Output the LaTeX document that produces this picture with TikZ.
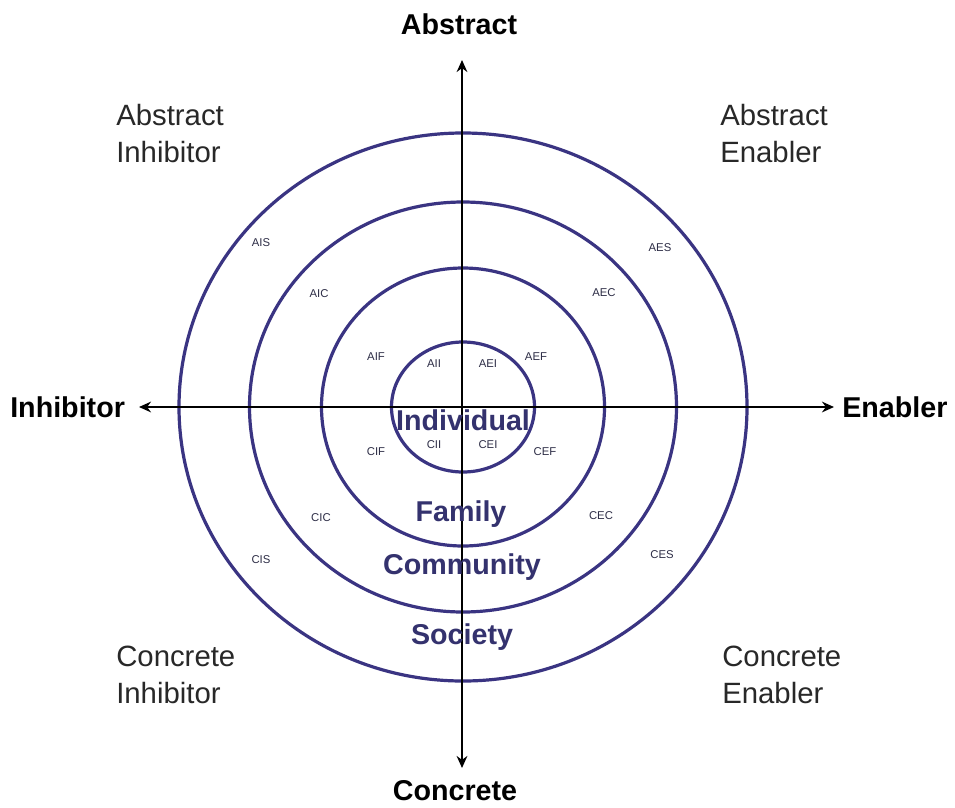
\documentclass[tikz,border=0pt]{standalone}
\usepackage{fontspec}
\setmainfont{Liberation Sans}
\usetikzlibrary{arrows.meta}
\definecolor{ring}{RGB}{58,52,130}
\definecolor{ringtext}{RGB}{52,50,110}
\definecolor{small}{RGB}{45,45,70}
\definecolor{quadtext}{RGB}{40,40,40}
\tikzset{
  ringline/.style={draw=ring, line width=2.4pt},
  axis/.style={draw=black, line width=2.2pt, -{Stealth[length=9pt,width=8pt]}},
  axislabel/.style={font=\fontsize{21.5}{24}\selectfont\bfseries, inner sep=0pt},
  quad/.style={font=\fontsize{22}{27.5}\selectfont, text=quadtext, align=left, anchor=north west, inner sep=0pt},
  ringlabel/.style={font=\fontsize{21.5}{24}\selectfont\bfseries, text=ringtext, inner sep=0pt},
  tiny/.style={font=\fontsize{8.5}{10}\selectfont, text=small, inner sep=0pt}
}
\begin{document}
\begin{tikzpicture}[x=0.75pt,y=-0.75pt]
\useasboundingbox (0,0) rectangle (955,807);
\fill[white] (0,0) rectangle (955,807);
\coordinate (c) at (463,407);
% rings
\draw[ringline] (c) ellipse [x radius=284, y radius=274];
\draw[ringline] (c) ellipse [x radius=213.5, y radius=205];
\draw[ringline] (c) ellipse [x radius=141.5, y radius=139];
\draw[ringline] (c) ellipse [x radius=71.5, y radius=65];
% axes
\coordinate (left) at (139,407);
\coordinate (right) at (834,407);
\coordinate (top) at (462,60);
\coordinate (bottom) at (462,768);
\draw[axis] (c) -- (left);
\draw[axis] (c) -- (right);
\draw[axis] (462,407) -- (top);
\draw[axis] (462,407) -- (bottom);
% axis labels
\node[axislabel] (abs) at (459,24) {Abstract};
\node[axislabel] (con) at (455,791) {Concrete};
\node[axislabel, anchor=west] (inh) at (10,407) {Inhibitor};
\node[axislabel, anchor=west] (ena) at (842,407) {Enabler};
% quadrant labels
\node[quad] (ai) at (116,104) {Abstract\\Inhibitor};
\node[quad] (ae) at (720,104) {Abstract\\Enabler};
\node[quad] (ci) at (116,646) {Concrete\\Inhibitor};
\node[quad] (ce) at (722,646) {Concrete\\Enabler};
% ring labels
\node[ringlabel] (ind) at (463,420) {Individual};
\node[ringlabel] (fam) at (461,514) {Family};
\node[ringlabel] (com) at (462,567) {Community};
\node[ringlabel] (soc) at (462,637) {Society};
% small labels
\node[tiny] (ais) at (261,243) {AIS};
\node[tiny] (aic) at (319,294) {AIC};
\node[tiny] (aif) at (376,357) {AIF};
\node[tiny] (aii) at (434,364) {AII};
\node[tiny] (aei) at (488,364) {AEI};
\node[tiny] (aef) at (536,357) {AEF};
\node[tiny] (aec) at (604,293) {AEC};
\node[tiny] (aes) at (660,248) {AES};
\node[tiny] (cii) at (434,445) {CII};
\node[tiny] (cei) at (488,445) {CEI};
\node[tiny] (cif) at (376,452) {CIF};
\node[tiny] (cef) at (545,452) {CEF};
\node[tiny] (cic) at (321,518) {CIC};
\node[tiny] (cec) at (601,516) {CEC};
\node[tiny] (cis) at (261,560) {CIS};
\node[tiny] (ces) at (662,555) {CES};
\end{tikzpicture}
\end{document}
